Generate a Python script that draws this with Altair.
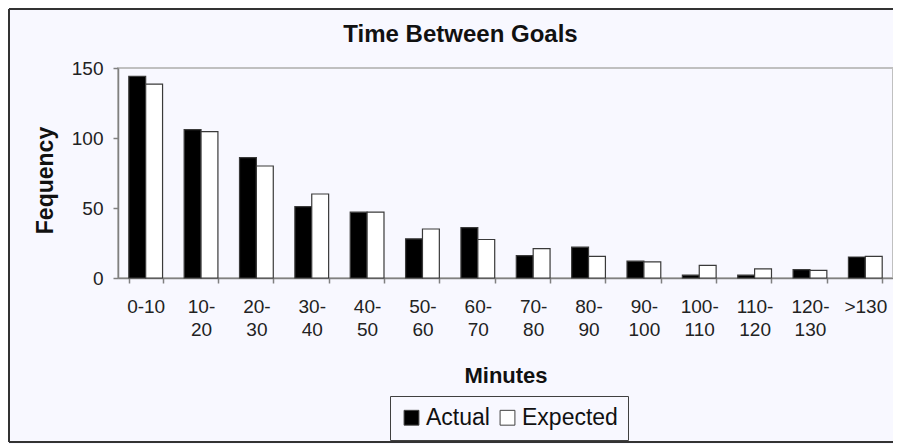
import altair as alt
import pandas as pd

# ---- data ----
categories = ["0-10", "10-20", "20-30", "30-40", "40-50", "50-60", "60-70",
              "70-80", "80-90", "90-100", "100-110", "110-120", "120-130", ">130"]
series = ["Actual", "Expected"]
actual = [144, 106, 86, 51, 47, 28, 36, 16, 22, 12, 2, 2, 6, 15]
expected = [138.5, 104.5, 80, 60, 47, 35, 27.5, 21, 15.5, 11.5, 9, 6.5, 5.5, 15.5]
y_ticks = [0, 50, 100, 150]
title_text = "Time Between Goals"
x_title = "Minutes"
y_title = "Fequency"

rows = []
for i, c in enumerate(categories):
    rows.append({"Minutes": c, "Series": "Actual", "Value": actual[i]})
    rows.append({"Minutes": c, "Series": "Expected", "Value": expected[i]})
df = pd.DataFrame(rows)

# ---- layout (pixels) ----
W, H = 775, 210
PAD_L, PAD_T = 110, 60
TOTAL_W, TOTAL_H = 885, 436
FONT = "Liberation Sans"

label_expr = ("!isValid(datum.value) ? '' : "
              "(datum.value == '0-10' || datum.value == '>130' ? datum.value : "
              "[split(datum.value, '-')[0] + '-', split(datum.value, '-')[1]])")

bars = alt.Chart(df).mark_bar(stroke="#3a3a3a", strokeWidth=1.2).encode(
    x=alt.X("Minutes:N", sort=categories,
            scale=alt.Scale(paddingInner=0.39, paddingOuter=0.195),
            title=x_title,
            axis=alt.Axis(labelExpr=label_expr, labelAngle=0, labelFontSize=19,
                          labelFont=FONT, labelColor="#222222", labelBaseline="top",
                          labelPadding=14, labelLineHeight=23, labelOverlap=False,
                          tickBand="extent", tickSize=5, tickColor="#808080",
                          tickWidth=1.5, domainColor="#808080", domainWidth=1.5,
                          titleFontSize=22, titleFont=FONT, titleFontWeight="bold",
                          titleColor="#111111", titleY=104, titleBaseline="alphabetic")),
    xOffset=alt.XOffset("Series:N", sort=series),
    y=alt.Y("Value:Q", scale=alt.Scale(domain=[0, 150], nice=False),
            title=y_title,
            axis=alt.Axis(values=y_ticks, grid=False, tickSize=5, tickColor="#808080",
                          tickWidth=1.5, domainColor="#808080", domainWidth=1.5,
                          labelFontSize=19, labelFont=FONT, labelColor="#222222",
                          labelPadding=10,
                          titleFontSize=23, titleFont=FONT, titleFontWeight="bold",
                          titleColor="#111111", titleAngle=270, titleX=-73, titleY=112,
                          titleBaseline="middle", titleAlign="center")),
    color=alt.Color("Series:N", scale=alt.Scale(domain=series, range=["#000000", "#ffffff"]),
                    title=None,
                    legend=alt.Legend(orient="none", legendX=272, legendY=328,
                                      direction="horizontal", symbolType="square",
                                      symbolSize=220, symbolStrokeColor="#404040",
                                      symbolStrokeWidth=1, labelFontSize=23,
                                      labelFont=FONT, labelColor="#111111",
                                      labelOffset=3, columnPadding=6, padding=10,
                                      strokeColor="#404040")),
)

one = pd.DataFrame({"k": [0]})
fx0, fy0 = -PAD_L + 1, -PAD_T + 1
fx1, fy1 = TOTAL_W - PAD_L + 5, TOTAL_H - PAD_T - 2
frame_left = alt.Chart(one).mark_rule(color="#333333", strokeWidth=2).encode(
    x=alt.value(fx0), y=alt.value(fy0), y2=alt.value(fy1))
frame_top = alt.Chart(one).mark_rule(color="#333333", strokeWidth=2).encode(
    x=alt.value(fx0), x2=alt.value(fx1), y=alt.value(fy0))
frame_bottom = alt.Chart(one).mark_rule(color="#333333", strokeWidth=2).encode(
    x=alt.value(fx0), x2=alt.value(fx1), y=alt.value(fy1))

chart = alt.layer(frame_left, frame_top, frame_bottom, bars).properties(
    width=W, height=H,
    autosize=alt.AutoSizeParams(type="none"),
    padding={"left": PAD_L, "top": PAD_T, "right": TOTAL_W - PAD_L - W,
             "bottom": TOTAL_H - PAD_T - H},
    background="#f8f8ff",
    title=alt.TitleParams(text=title_text, fontSize=24, fontWeight="bold", font=FONT,
                          color="#111111", anchor="middle", frame="group", dx=-45,
                          offset=-58, baseline="alphabetic"),
).configure_view(stroke="#c0c0c0", strokeWidth=2)

chart.save("out.html", embed_options={"renderer": "svg", "actions": False})
